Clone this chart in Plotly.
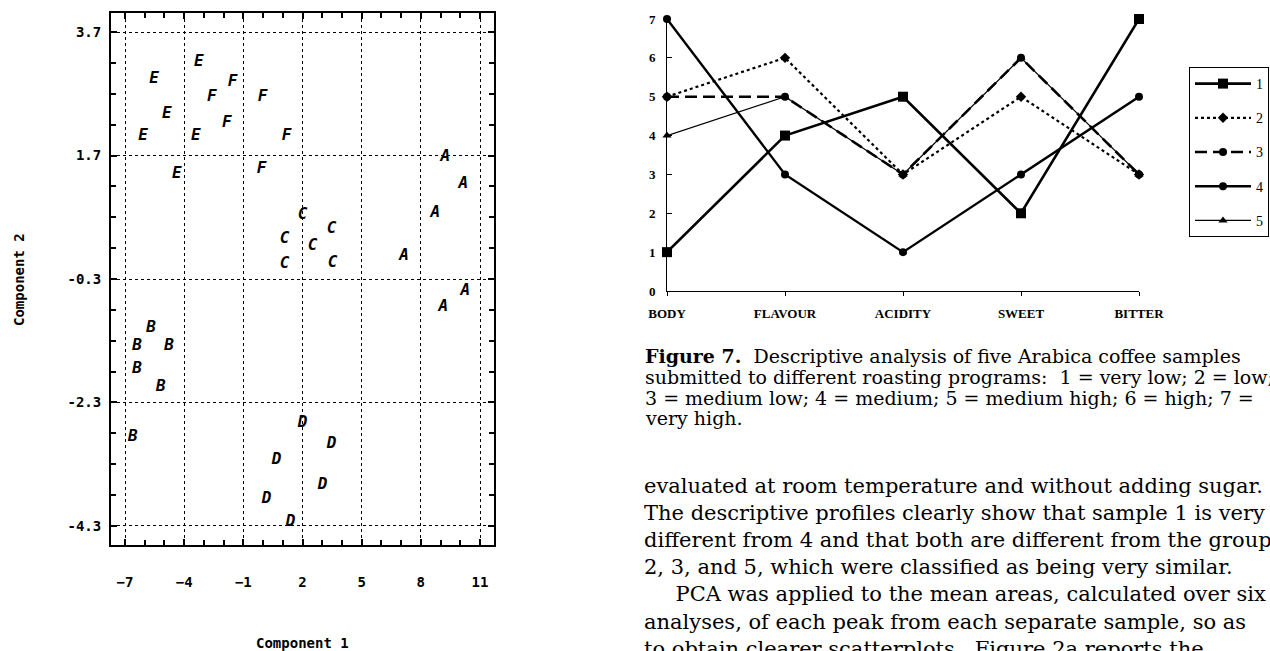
import plotly.graph_objects as go

W, H = 1270, 651

# ---- PCA scatterplot (Component 1 vs Component 2), one letter per sample ----
pca_labels = ["E"] * 6 + ["F"] * 6 + ["C"] * 6 + ["A"] * 6 + ["B"] * 6 + ["D"] * 6
pca_c1 = [-3.26, -5.53, -4.88, -6.09, -3.41, -4.37,
          -1.54, -2.60, -0.02, -1.84, 1.19, -0.07,
          2.00, 3.47, 1.09, 2.51, 1.09, 3.52,
          9.24, 10.15, 8.73, 7.15, 10.25, 9.14,
          -5.68, -6.39, -4.77, -6.39, -5.18, -6.60,
          2.00, 3.47, 0.69, 3.02, 0.18, 1.40]
pca_c2 = [3.21, 2.94, 2.37, 2.02, 2.02, 1.40,
          2.89, 2.65, 2.65, 2.23, 2.02, 1.48,
          0.74, 0.51, 0.35, 0.23, -0.06, -0.04,
          1.68, 1.24, 0.77, 0.08, -0.49, -0.75,
          -1.09, -1.38, -1.38, -1.76, -2.05, -2.86,
          -2.63, -2.97, -3.23, -3.64, -3.86, -4.24]
pca_xticks = [-7, -4, -1, 2, 5, 8, 11]
pca_yticks = [3.7, 1.7, -0.3, -2.3, -4.3]
pca_yticktext = ["3.7", "1.7", "-0.3", "-2.3", "-4.3"]

# ---- Descriptive profiles of the five roasting programs ----
attributes = ["BODY", "FLAVOUR", "ACIDITY", "SWEET", "BITTER"]
sample_1 = [1, 4, 5, 2, 7]
sample_2 = [5, 6, 3, 5, 3]
sample_3 = [5, 5, 3, 6, 3]
sample_4 = [7, 3, 1, 3, 5]
sample_5 = [4, 5, 3, 6, 3]
profile_yticks = [0, 1, 2, 3, 4, 5, 6, 7]

caption_lines = [
    "<b>Figure 7.</b>  Descriptive analysis of five Arabica coffee samples",
    "submitted to different roasting programs:  1 = very low; 2 = low;",
    "3 = medium low; 4 = medium; 5 = medium high; 6 = high; 7 =",
    "very high.",
]
body_lines = [
    "evaluated at room temperature and without adding sugar.",
    "The descriptive profiles clearly show that sample 1 is very",
    "different from 4 and that both are different from the groups",
    "2, 3, and 5, which were classified as being very similar.",
    "\u2003\u2002PCA was applied to the mean areas, calculated over six",
    "analyses, of each peak from each separate sample, so as",
    "to obtain clearer scatterplots.  Figure 2a reports the",
]

fig = go.Figure()

mono = "DejaVu Sans Mono"
fig.add_trace(go.Scatter(
    x=pca_c1, y=pca_c2, text=pca_labels, mode="text",
    textposition="middle center",
    textfont=dict(family=mono, size=16, color="black", weight="bold", style="italic"),
    xaxis="x", yaxis="y", showlegend=False, hoverinfo="skip", cliponaxis=False,
))

profile_styles = [
    ("1", sample_1, dict(width=2.6, dash="solid"), dict(symbol="square", size=10)),
    ("2", sample_2, dict(width=2.2, dash="dot"), dict(symbol="diamond", size=8)),
    ("4", sample_4, dict(width=2.4, dash="solid"), dict(symbol="circle", size=8)),
    ("5", sample_5, dict(width=1.2, dash="solid"), dict(symbol="triangle-up", size=8)),
    ("3", sample_3, dict(width=2.6, dash="12px,6px"), dict(symbol="circle", size=8)),
]
legend_rank = {"1": 1, "2": 2, "3": 3, "4": 4, "5": 5}
for name, vals, line, marker in profile_styles:
    fig.add_trace(go.Scatter(
        x=list(range(len(attributes))), y=vals, name=name, mode="lines+markers",
        line=dict(color="black", **line), marker=dict(color="black", **marker),
        xaxis="x2", yaxis="y2", cliponaxis=False, legendgroup=name,
        legendrank=legend_rank[name],
    ))

frame = dict(showline=True, linecolor="black", linewidth=2, mirror="allticks",
             ticks="inside", ticklen=6, tickwidth=2, tickcolor="black",
             showgrid=True, gridcolor="black", gridwidth=1, griddash="dot",
             zeroline=False, fixedrange=True)

fig.update_layout(
    width=W, height=H,
    margin=dict(l=0, r=0, t=0, b=0, autoexpand=False),
    paper_bgcolor="white", plot_bgcolor="white",
    xaxis=dict(domain=[111 / W, 494 / W], range=[-7.71, 11.71],
               tickmode="array", tickvals=pca_xticks,
               tickfont=dict(family=mono, size=14, color="black", weight="bold"),
               ticklabelstandoff=23,
               minor=dict(tickmode="linear", tick0=-7, dtick=1, ticks="inside",
                          ticklen=5, tickwidth=2, tickcolor="black", showgrid=False),
               anchor="y", **frame),
    yaxis=dict(domain=[1 - 545 / H, 1 - 13 / H], range=[-4.608, 4.008],
               tickmode="array", tickvals=pca_yticks, ticktext=pca_yticktext,
               tickfont=dict(family=mono, size=14, color="black", weight="bold"),
               ticklabelstandoff=5,
               minor=dict(tickmode="linear", tick0=-4.3, dtick=0.5, ticks="inside",
                          ticklen=5, tickwidth=2, tickcolor="black", showgrid=False),
               anchor="x", **frame),
    xaxis2=dict(domain=[667 / W, 1139 / W], range=[0, 4], anchor="y2",
                tickmode="array", tickvals=list(range(len(attributes))), ticktext=attributes,
                tickfont=dict(family="Liberation Serif", size=13, color="black", weight="bold"),
                showline=True, linecolor="black", linewidth=1,
                ticks="outside", ticklen=4, tickwidth=1, tickcolor="black",
                ticklabelstandoff=6, showgrid=False, zeroline=False, fixedrange=True),
    yaxis2=dict(domain=[1 - 291 / H, 1 - 19 / H], range=[0, 7], anchor="x2",
                tickmode="array", tickvals=profile_yticks,
                tickfont=dict(family="Liberation Serif", size=13, color="black", weight="bold"),
                showline=True, linecolor="black", linewidth=1,
                ticks="inside", ticklen=5, tickwidth=1, tickcolor="black",
                ticklabelstandoff=8, showgrid=False, zeroline=False, fixedrange=True),
    legend=dict(x=1189 / W, y=1 - 67 / H, xanchor="left", yanchor="top",
                bgcolor="white", bordercolor="black", borderwidth=1,
                font=dict(family="Liberation Serif", size=14, color="black"),
                traceorder="grouped", tracegroupgap=13, itemwidth=56),
    showlegend=True,
)

# axis titles of the scatterplot
fig.add_annotation(text="Component 1", x=(111 + 494) / 2 / W, y=1 - 643 / H,
                   xref="paper", yref="paper", xanchor="center", yanchor="middle",
                   showarrow=False,
                   font=dict(family=mono, size=14, color="black", weight="bold"))
fig.add_annotation(text="Component 2", x=19 / W, y=1 - 280 / H, textangle=-90,
                   xref="paper", yref="paper", xanchor="center", yanchor="middle",
                   showarrow=False,
                   font=dict(family=mono, size=14, color="black", weight="bold"))

# figure caption and running text
for i, line in enumerate(caption_lines):
    fig.add_annotation(text=line, x=643 / W, y=1 - (356 + 20.8 * i) / H,
                       xref="paper", yref="paper", xanchor="left", yanchor="middle",
                       showarrow=False,
                       font=dict(family="DejaVu Serif", size=19, color="black"))
for i, line in enumerate(body_lines):
    fig.add_annotation(text=line, x=642 / W, y=1 - (486 + 27.1 * i) / H,
                       xref="paper", yref="paper", xanchor="left", yanchor="middle",
                       showarrow=False,
                       font=dict(family="DejaVu Serif", size=21, color="black"))

fig.write_html("out.html")
